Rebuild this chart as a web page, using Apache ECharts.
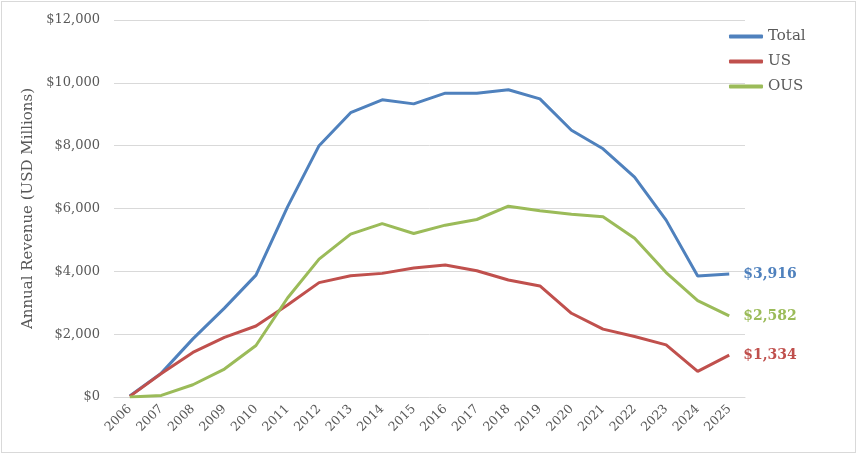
<!DOCTYPE html>
<html>
<head>
<meta charset="utf-8">
<script src="https://cdn.jsdelivr.net/npm/echarts@6/dist/echarts.min.js"></script>
<style>
  html, body { margin: 0; padding: 0; background: #fff; }
  #main { position: absolute; left: 0; top: 0; width: 860px; height: 457px; }
  #frame { position: absolute; left: 1px; top: 1px; width: 855px; height: 452px; border: 1px solid #d9d9d9; box-sizing: border-box; pointer-events: none; }
</style>
</head>
<body>
<div id="main"></div>
<div id="frame"></div>
<script>
// years on the x axis
var years = ['2006', '2007', '2008', '2009', '2010', '2011', '2012', '2013', '2014', '2015',
  '2016', '2017', '2018', '2019', '2020', '2021', '2022', '2023', '2024', '2025'];
// annual revenue, USD millions
var totalRev = [30, 760, 1850, 2830, 3880, 6050, 8000, 9050, 9460, 9330,
  9670, 9670, 9780, 9490, 8490, 7900, 7000, 5630, 3850, 3916];
var usRev = [20, 750, 1420, 1900, 2260, 2930, 3640, 3860, 3935, 4105,
  4200, 4020, 3725, 3535, 2665, 2160, 1925, 1660, 815, 1334];
var ousRev = [0, 50, 390, 890, 1640, 3150, 4390, 5185, 5520, 5205,
  5470, 5650, 6075, 5925, 5820, 5735, 5050, 3960, 3070, 2582];

var font = 'Georgia, "DejaVu Serif", serif';
var grey = '#595959';

function money(v) {
  return '$' + Math.round(v).toString().replace(/\B(?=(\d{3})+(?!\d))/g, ',');
}

var myChart = echarts.init(document.getElementById('main'));

function lineSeries(name, data, color) {
  return {
    name: name,
    type: 'line',
    data: data,
    symbol: 'none',
    lineStyle: { color: color, width: 3 },
    itemStyle: { color: color },
    endLabel: {
      show: true,
      distance: 14,
      formatter: function (p) { return money(p.value); },
      color: color,
      fontFamily: font,
      fontWeight: 'bold',
      fontSize: 14
    }
  };
}

var option = {
  animation: false,
  textStyle: { fontFamily: font },
  grid: { left: 114, right: 115, top: 20, bottom: 60 },
  legend: {
    orient: 'vertical',
    left: 724,
    top: 24,
    itemWidth: 34,
    itemHeight: 4,
    itemGap: 10,
    icon: 'roundRect',
    textStyle: { fontFamily: font, fontSize: 15, color: grey },
    data: ['Total', 'US', 'OUS']
  },
  xAxis: {
    type: 'category',
    data: years,
    boundaryGap: true,
    axisLine: { lineStyle: { color: '#d9d9d9', width: 1 } },
    axisTick: { show: false },
    axisLabel: {
      rotate: 45,
      interval: 0,
      margin: 10,
      color: grey,
      fontFamily: font,
      fontSize: 12.5
    }
  },
  yAxis: {
    type: 'value',
    min: 0,
    max: 12000,
    interval: 2000,
    name: 'Annual Revenue (USD Millions)',
    nameLocation: 'middle',
    nameGap: 76,
    nameTextStyle: { color: grey, fontFamily: font, fontSize: 15 },
    axisLine: { show: false },
    axisTick: { show: false },
    splitLine: { lineStyle: { color: '#d9d9d9', width: 1 } },
    axisLabel: {
      margin: 14,
      color: grey,
      fontFamily: font,
      fontSize: 13,
      formatter: function (v) { return money(v); }
    }
  },
  series: [
    lineSeries('Total', totalRev, '#4f81bd'),
    lineSeries('US', usRev, '#c0504d'),
    lineSeries('OUS', ousRev, '#9bbb59')
  ]
};

myChart.setOption(option);
</script>
</body>
</html>
